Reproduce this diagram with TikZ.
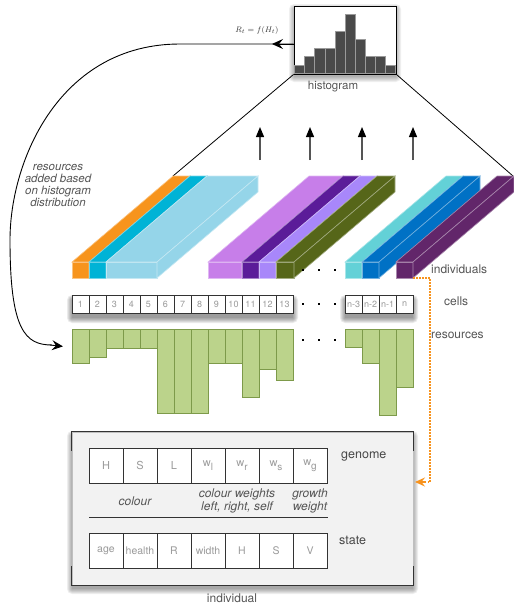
\documentclass[tikz,border=0pt]{standalone}
\usepackage{fontspec}
\setmainfont{TeX Gyre Heros}
\usetikzlibrary{arrows.meta}
\definecolor{txt}{HTML}{555555}
\definecolor{lighttxt}{HTML}{9A9A9A}
\definecolor{dark}{HTML}{333333}
\definecolor{cOrange}{HTML}{F7941D}
\definecolor{cTeal}{HTML}{00B3D6}
\definecolor{cLBlue}{HTML}{95D5E9}
\definecolor{cLPurple}{HTML}{C77EE9}
\definecolor{cDPurple}{HTML}{5B1C99}
\definecolor{cLav}{HTML}{A887FA}
\definecolor{cOlive}{HTML}{566619}
\definecolor{cCyan}{HTML}{63D1D7}
\definecolor{cBlue}{HTML}{0071C5}
\definecolor{cPlum}{HTML}{62266A}
\definecolor{resFill}{HTML}{BBD38B}
\definecolor{resLine}{HTML}{7D9A4A}
\definecolor{arrOrange}{HTML}{F7931E}
\definecolor{histBar}{HTML}{4A4A4A}
\definecolor{boxFill}{HTML}{F2F2F2}
\newcommand\mycuboid[3]{%
  \filldraw[fill=#3, draw=#3!55!white, line width=0.6pt] (#1,262) rectangle (#2,278);
  \filldraw[fill=#3, draw=#3!55!white, line width=0.6pt] (#1,262) -- (#2,262) -- (#2+101,176) -- (#1+101,176) -- cycle;
  \filldraw[fill=#3, draw=#3!55!white, line width=0.6pt] (#2,262) -- (#2,278) -- (#2+101,192) -- (#2+101,176) -- cycle;
}
\newcommand\fuzz[6]{%
  \foreach \k in {0,...,5}{\fill[black,opacity=#6,rounded corners=\k pt] ({#1-\k},{#2-\k+#5}) rectangle ({#3+\k},{#4+\k+#5});}
}
\newcommand\wsub[1]{w\raisebox{-4pt}{\fontsize{10}{10}\selectfont #1}}
\begin{document}
\begin{tikzpicture}[x=1pt,y=-1pt,
  lbl/.style={font=\fontsize{12}{14}\selectfont, text=txt, inner sep=0pt},
  captxt/.style={font=\fontsize{12}{12.5}\selectfont\itshape, text=txt, align=center, inner sep=0pt},
  cell/.style={draw=dark, line width=0.9pt, fill=white, minimum width=17pt, minimum height=18pt, inner sep=0pt, font=\fontsize{9}{9}\selectfont, text=lighttxt},
  res/.style={draw=resLine, line width=0.8pt, fill=resFill, minimum width=17pt, inner sep=0pt, anchor=north west},
  slot/.style={draw=dark, line width=0.9pt, fill=white, minimum width=34pt, minimum height=35pt, inner sep=0pt, font=\fontsize{11}{11}\selectfont, text=lighttxt},
  blackarrow/.style={line width=0.9pt, -{Stealth[length=11pt,width=10pt,inset=4pt]}},
  uparrow/.style={draw=txt, line width=1.2pt, -{Triangle[length=10pt,width=8pt,color=black]}},
  dotdot/.style={fill=black, minimum size=2.6pt, inner sep=0pt},
]
\useasboundingbox (0,0) rectangle (514,608);

% ---------- histogram ----------
\fuzz{294}{6}{396}{74}{3}{0.06}
\node[draw=black, line width=0.9pt, fill=white, minimum width=102pt, minimum height=68pt, inner sep=0pt] (hist) at (345,40) {};
\foreach \h [count=\i] in {8,17,25,25,42,59,34,17,17,8}{
  \filldraw[fill=histBar, draw=lighttxt, line width=0.6pt] ({294.5+10.1*(\i-1)},73.5) rectangle ({294.5+10.1*\i},{73.5-\h});
}
\node[lbl, font=\fontsize{11.5}{12}\selectfont] (histlbl) at (333,87) {histogram};
\node[inner sep=0pt, font=\fontsize{8}{9}\selectfont, text=dark] (rlabel) at (257,30) {$R_t = f(H_t)$};

% ---------- feedback curve ----------
\coordinate (rt) at (272,44);
\draw[line width=0.9pt] ([yshift=-4pt]hist.west) -- (180,44) .. controls (60,44) and (10,160) .. (10,240) .. controls (10,330) and (25,345) .. (52,345);
\draw[blackarrow] ([yshift=-4pt]hist.west) -- (rt);
\node[captxt, font=\fontsize{11.5}{12}\selectfont\itshape] (addtxt) at (58,185) {resources\\added based\\on histogram\\distribution};

% ---------- cone lines ----------
\coordinate (ob) at (173,176);
\coordinate (pb) at (513,176);
\draw[line width=0.8pt] (hist.south west) -- (ob);
\draw[line width=0.8pt] (hist.south east) -- (pb);

% ---------- up arrows ----------
\foreach \x [count=\i] in {260,310,362,413}{
  \coordinate (ua\i) at (\x,160);
  \coordinate (ub\i) at (\x,127);
  \draw[uparrow] (ua\i) -- (ub\i);
}

% ---------- individuals (cuboids) ----------
\mycuboid{72}{89}{cOrange}
\mycuboid{89}{106}{cTeal}
\mycuboid{106}{157}{cLBlue}
\mycuboid{208}{242}{cLPurple}
\mycuboid{242}{259}{cDPurple}
\mycuboid{259}{276}{cLav}
\mycuboid{276}{294}{cOlive}
\mycuboid{345}{362}{cCyan}
\mycuboid{362}{379}{cBlue}
\mycuboid{396}{413}{cPlum}
\foreach \y [count=\j] in {270,304,340}{
  \foreach \x [count=\i] in {303,319,335}{\node[dotdot] (dot\j\i) at (\x,\y) {};}
}
\node[lbl, anchor=west] (indlbl) at (431,269) {individuals};

% ---------- cells ----------
\fuzz{72}{295}{293}{313}{5}{0.08}
\fuzz{345}{295}{413}{313}{5}{0.08}
\foreach \i in {1,...,13}{\node[cell] (c\i) at ({72+17*(\i-1)+8.5},304) {\i};}
\foreach \t [count=\i] in {n-3,n-2,n-1,n}{\node[cell] (cn\i) at ({345+17*(\i-1)+8.5},304) {\t};}
\node[lbl, anchor=west] (celllbl) at (444,301) {cells};

% ---------- resources ----------
\foreach \h [count=\i] in {34,28,19,19,19,84,84,84,34,34,68,40,51}{
  \node[res, minimum height=\h pt] (r\i) at ({72+17*(\i-1)},329) {};
}
\foreach \h [count=\i] in {18,34,86,58}{
  \node[res, minimum height=\h pt] (rn\i) at ({345+17*(\i-1)},329) {};
}
\node[lbl, anchor=west] (reslbl) at (431,335) {resources};
\draw[blackarrow] (50,345) -- ([xshift=-9pt]r1.west);

% ---------- individual box ----------
\fuzz{72}{432}{413}{585}{4}{0.065}
\node[fill=boxFill, draw=black!25, line width=0.5pt, minimum width=341pt, minimum height=153pt, inner sep=0pt] (ind) at (242.5,508.5) {};
\draw[dark, line width=1.2pt] ([yshift=-19pt]ind.north west) -- (ind.north west) -- (ind.north east) -- ([yshift=-19pt]ind.north east);
\draw[dark, line width=1.2pt] ([yshift=19pt]ind.south west) -- (ind.south west) -- (ind.south east) -- ([yshift=19pt]ind.south east);
\foreach \t [count=\i] in {H,S,L,{\wsub{l}},{\wsub{r}},{\wsub{s}},{\wsub{g}}}{
  \node[slot] (g\i) at ({89+17+34*(\i-1)},465.5) {\t};
}
\foreach \t [count=\i] in {age,health,R,width,H,S,V}{
  \node[slot, font=\fontsize{10.5}{11}\selectfont] (s\i) at ({89+17+34*(\i-1)},551) {\t};
}
\node[captxt] (capcol) at (135,501) {colour};
\node[captxt] (capw) at (237,501) {colour weights\\left, right, self};
\node[captxt] (capg) at (310,501) {growth\\weight};
\draw[dark, line width=1pt] (89,517) -- (328,517);
\node[lbl, font=\fontsize{12.5}{14}\selectfont, text=black!72] (genlbl) at (341,456) [anchor=west] {genome};
\node[lbl, font=\fontsize{12.5}{14}\selectfont, text=black!72] (statelbl) at (339,540) [anchor=west] {state};
\node[lbl] (indboxlbl) at (232,598) {individual};

% ---------- orange dotted link ----------
\coordinate (oa) at (413,278);
\coordinate (ob2) at (430,278);
\coordinate (oc) at (430,482);
\coordinate (od) at (415,482);
\draw[arrOrange, line width=1.2pt, dash pattern=on 1.5pt off 1.5pt] (oa) -- (ob2) -- (oc) -- (424,482);
\draw[arrOrange, line width=1.1pt, -{Stealth[length=10pt,width=9pt,inset=3.5pt]}] (425,482) -- (od);
\end{tikzpicture}
\end{document}
